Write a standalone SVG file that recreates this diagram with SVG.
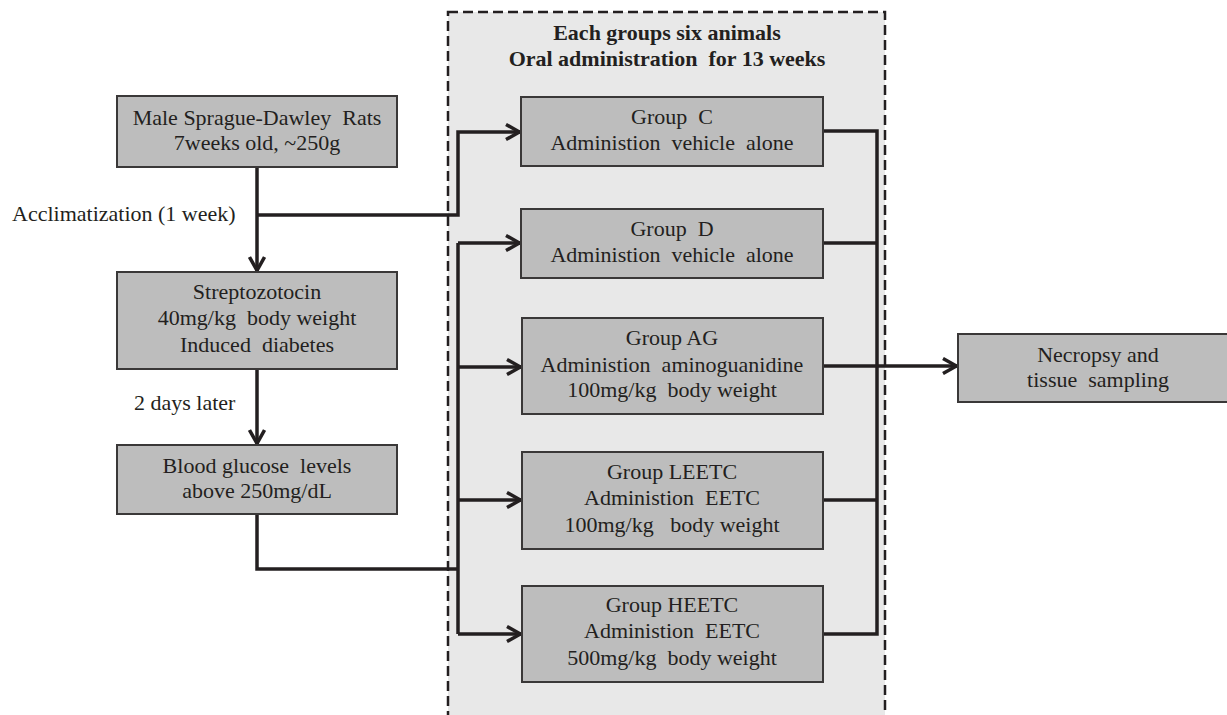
<svg xmlns="http://www.w3.org/2000/svg" width="1227" height="715" viewBox="0 0 1227 715">
<style>
.box{fill:#bdbdbd;stroke:#3a3838;stroke-width:2}
.t{font-family:"Liberation Serif","Times New Roman",serif;font-size:22px;fill:#231f20;text-anchor:middle;white-space:pre}
.l{font-family:"Liberation Serif","Times New Roman",serif;font-size:22px;fill:#231f20;white-space:pre}
.b{font-weight:bold}
.c{fill:none;stroke:#231f20;stroke-width:3.5;stroke-linejoin:miter}
</style>
<defs>
<marker id="ah" viewBox="0 0 18 18" refX="16" refY="9" markerWidth="18" markerHeight="18" markerUnits="userSpaceOnUse" orient="auto">
<path d="M2,1.5 L15.5,9 L2,16.5" fill="none" stroke="#231f20" stroke-width="3.5"/>
</marker>
</defs>
<rect width="1227" height="715" fill="#ffffff"/>
<g id="container">
<rect x="448" y="12" width="437" height="720" fill="#e8e8e8" stroke="#231f20" stroke-width="2.5" stroke-dasharray="10,5"/>
<text class="t b" x="667" y="40">Each groups six animals</text>
<text class="t b" x="667" y="66">Oral administration  for 13 weeks</text>
</g>
<g id="connectors">
<path class="c" d="M257,167 V271" marker-end="url(#ah)"/>
<path class="c" d="M257,215 H458 V132 H520" marker-end="url(#ah)"/>
<path class="c" d="M257,369 V444" marker-end="url(#ah)"/>
<path class="c" d="M257,514 V569 H458"/>
<path class="c" d="M458,243 V634"/>
<path class="c" d="M458,243 H520" marker-end="url(#ah)"/>
<path class="c" d="M458,367 H521" marker-end="url(#ah)"/>
<path class="c" d="M458,500 H521" marker-end="url(#ah)"/>
<path class="c" d="M458,634 H521" marker-end="url(#ah)"/>
<path class="c" d="M823,131 H877 V634 H823"/>
<path class="c" d="M823,243 H877"/>
<path class="c" d="M823,500 H877"/>
<path class="c" d="M823,366 H957" marker-end="url(#ah)"/>
</g>
<g id="label-acclimatization"><text class="l" x="12" y="221">Acclimatization (1 week)</text></g>
<g id="label-2days"><text class="l" x="134" y="410">2 days later</text></g>
<g id="node-rats">
<rect class="box" x="117" y="96" width="280" height="71"/>
<text class="t" x="257" y="125">Male Sprague-Dawley  Rats</text>
<text class="t" x="257" y="150">7weeks old, ~250g</text>
</g>
<g id="node-stz">
<rect class="box" x="117" y="272" width="280" height="97"/>
<text class="t" x="257" y="299">Streptozotocin</text>
<text class="t" x="257" y="325">40mg/kg  body weight</text>
<text class="t" x="257" y="352">Induced  diabetes</text>
</g>
<g id="node-glucose">
<rect class="box" x="117" y="445" width="280" height="69"/>
<text class="t" x="257" y="473">Blood glucose  levels</text>
<text class="t" x="257" y="498">above 250mg/dL</text>
</g>
<g id="node-groupC">
<rect class="box" x="521" y="97" width="302" height="69"/>
<text class="t" x="672" y="124">Group  C</text>
<text class="t" x="672" y="150">Administion  vehicle  alone</text>
</g>
<g id="node-groupD">
<rect class="box" x="521" y="209" width="302" height="69"/>
<text class="t" x="672" y="236">Group  D</text>
<text class="t" x="672" y="262">Administion  vehicle  alone</text>
</g>
<g id="node-groupAG">
<rect class="box" x="522" y="318" width="301" height="96"/>
<text class="t" x="672" y="345">Group AG</text>
<text class="t" x="672" y="372">Administion  aminoguanidine</text>
<text class="t" x="672" y="397">100mg/kg  body weight</text>
</g>
<g id="node-groupLEETC">
<rect class="box" x="522" y="452" width="301" height="97"/>
<text class="t" x="672" y="479">Group LEETC</text>
<text class="t" x="672" y="505">Administion  EETC</text>
<text class="t" x="672" y="532">100mg/kg   body weight</text>
</g>
<g id="node-groupHEETC">
<rect class="box" x="522" y="586" width="301" height="96"/>
<text class="t" x="672" y="612">Group HEETC</text>
<text class="t" x="672" y="638">Administion  EETC</text>
<text class="t" x="672" y="665">500mg/kg  body weight</text>
</g>
<g id="node-necropsy">
<rect class="box" x="958" y="334" width="282" height="68"/>
<text class="t" x="1098" y="362">Necropsy and</text>
<text class="t" x="1098" y="387">tissue  sampling</text>
</g>
</svg>
